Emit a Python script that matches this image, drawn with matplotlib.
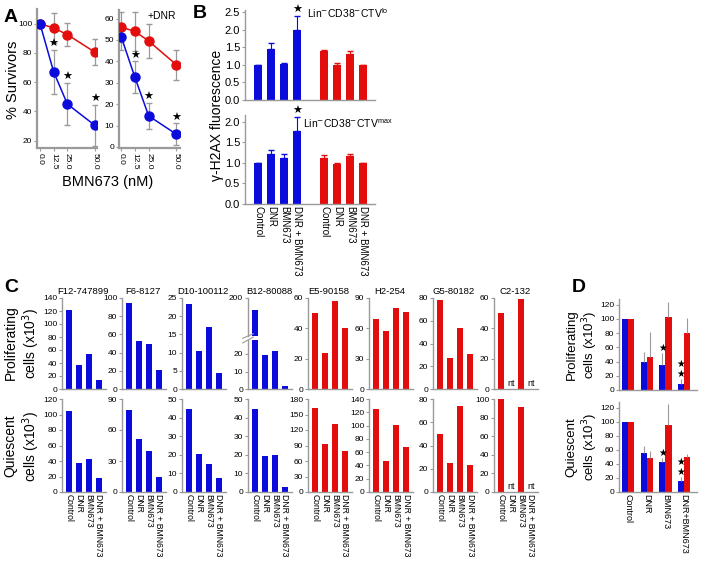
import numpy as np
import matplotlib
matplotlib.use('Agg')
import matplotlib.pyplot as plt

plt.rcParams['font.family'] = ['Liberation Sans', 'DejaVu Sans']

W, H = 722, 570
BLUE = '#0b0bdc'
RED = '#e30d0d'
GREY = '#9a9a9a'

# ---- data, panel A (% survivors) ----
dose = [0, 12.5, 25, 50]
a_red = [100, 97, 92.5, 80.5]
a_red_err = [0, 10, 8, 9]
a_blue = [100, 67, 45, 30.5]
a_blue_err = [0, 15, 14.5, 14]
a_red_dnr = [56, 54, 49.5, 38.5]
a_red_dnr_err = [7, 9, 8, 7]
a_blue_dnr = [51.5, 32.5, 14.5, 6]
a_blue_dnr_err = [6, 7.5, 6, 5]

# ---- data, panel B (gamma-H2AX) ----
treat = ['Control', 'DNR', 'BMN673', 'DNR + BMN673']
b_lo_blue = [1.0, 1.45, 1.02, 1.99]
b_lo_blue_err = [0, 0.17, 0.02, 0.41]
b_lo_red = [1.38, 1.0, 1.32, 1.0]
b_lo_red_err = [0.04, 0.05, 0.06, 0]
b_max_blue = [1.0, 1.21, 1.13, 1.78]
b_max_blue_err = [0, 0.1, 0.08, 0.35]
b_max_red = [1.12, 0.98, 1.16, 1.0]
b_max_red_err = [0.08, 0.02, 0.07, 0]

# ---- data, panel C (individual patients) ----
patients = ['F12-747899', 'F6-8127', 'D10-100112', 'B12-80088',
            'E5-90158', 'H2-254', 'G5-80182', 'C2-132']
pat_color = [BLUE, BLUE, BLUE, BLUE, RED, RED, RED, RED]
nan = np.nan
prolif = [[122, 37, 54, 14], [94, 53, 49, 21], [23.3, 10.5, 17, 4.3],
          [168, 19.6, 22, 1.6], [50, 24, 58, 40], [69, 57, 80, 76],
          [78, 27, 54, 31], [50, nan, 59.5, nan]]
prolif_top = [140, 100, 25, 28, 60, 90, 80, 60]
prolif_step = [20, 20, 5, 10, 20, 30, 20, 20]
quies = [[104, 38, 42, 18], [79, 51, 40, 15], [44.5, 20.5, 15, 7.5],
         [44.5, 19.5, 19.7, 2.5], [163, 92, 131, 80], [125, 47, 101, 68],
         [50, 25, 74, 23], [100, nan, 91.5, nan]]
quies_top = [120, 90, 50, 50, 180, 140, 80, 100]
quies_step = [20, 30, 10, 10, 30, 20, 20, 20]

# ---- data, panel D (summary) ----
d_labels = ['Control', 'DNR', 'BMN673', 'DNR+BMN673']
d_pro_blue = [100, 40, 35, 8]
d_pro_blue_err = [0, 14, 17, 8]
d_pro_red = [100, 47, 102, 80]
d_pro_red_err = [0, 34, 22, 21]
d_qui_blue = [100, 55, 42, 15]
d_qui_blue_err = [0, 11, 7, 7]
d_qui_red = [100, 48, 95, 50]
d_qui_red_err = [0, 10, 30, 4]

fig = plt.figure(figsize=(W / 100, H / 100), dpi=100)


def px_axes(x0, y0, x1, y1):
    return fig.add_axes([x0 / W, 1 - y1 / H, (x1 - x0) / W, (y1 - y0) / H])


def style(ax, lw=1.0, size=6):
    for s in ['top', 'right']:
        ax.spines[s].set_visible(False)
    for s in ['left', 'bottom']:
        ax.spines[s].set_color(GREY)
        ax.spines[s].set_linewidth(lw)
    ax.tick_params(color=GREY, length=2, width=0.8, labelsize=size, pad=1.5)


def px_text(x, y, s, **kw):
    fig.text(x / W, 1 - y / H, s, **kw)


# ================= panel A =================
star = dict(fontsize=8, ha='center', va='bottom', family='DejaVu Sans')
for k, (ry, re_, by, be, ylim, yt) in enumerate([
        (a_red, a_red_err, a_blue, a_blue_err, (15, 110), range(20, 101, 20)),
        (a_red_dnr, a_red_dnr_err, a_blue_dnr, a_blue_dnr_err, (-0.5, 64), range(0, 61, 10))]):
    ax = px_axes(37, 9, 97, 148) if k == 0 else px_axes(119, 10, 180, 148)
    style(ax, lw=1.6, size=6)
    ax.errorbar(dose, ry, yerr=re_, color=RED, ecolor=GREY, elinewidth=0.9, capsize=2.5,
                marker='o', ms=6.5, lw=1.1, zorder=3)
    ax.errorbar(dose, by, yerr=be, color=BLUE, ecolor=GREY, elinewidth=0.9, capsize=2.5,
                marker='o', ms=6.5, lw=1.1, zorder=3)
    for x, y, e in list(zip(dose, by, be))[1:]:
        ax.text(x, y + e + (0.5 if k == 0 else 0.3), '\u2605', **star)
    if k == 0:
        ax.set_xlim(-2.7, 52)
    else:
        ax.set_xlim(-2, 53.5)
    ax.set_ylim(*ylim)
    ax.set_yticks(list(yt))
    ax.set_xticks(dose)
    ax.set_xticklabels(['0.0', '12.5', '25.0', '50.0'], rotation=-90, va='top')
px_text(162, 16, '+DNR', fontsize=7.5, ha='center', va='center')
px_text(13, 80, '% Survivors', fontsize=10.5, rotation=90, ha='center', va='center')
px_text(108, 182, 'BMN673 (nM)', fontsize=10.5, ha='center', va='center')

# ================= panel B =================
pos_blue = np.arange(4)
pos_red = np.arange(4) + 5.1
for k, (vb, eb, vr, er, box, ylim, yt, lab, ly) in enumerate([
        (b_lo_blue, b_lo_blue_err, b_lo_red, b_lo_red_err, (245, 10, 375, 100), 2.56,
         np.arange(0, 2.51, 0.5), r'Lin$^{-}$CD38$^{-}$CTV$^{\mathregular{lo}}$', 0.96),
        (b_max_blue, b_max_blue_err, b_max_red, b_max_red_err, (245, 115, 375, 204), 2.17,
         np.arange(0, 2.01, 0.5), r'Lin$^{-}$CD38$^{-}$CTV$^{\mathregular{max}}$', 0.9)]):
    ax = px_axes(*box)
    style(ax, lw=1.0, size=8)
    ax.bar(pos_blue, vb, width=0.62, color=BLUE, yerr=[np.zeros(4), eb],
           error_kw=dict(ecolor=BLUE, elinewidth=0.8, capsize=2))
    ax.bar(pos_red, vr, width=0.62, color=RED, yerr=[np.zeros(4), er],
           error_kw=dict(ecolor=RED, elinewidth=0.8, capsize=2))
    ax.text(pos_blue[3], vb[3] + eb[3] + 0.01, '\u2605', fontsize=8, ha='center',
            va='bottom', family='DejaVu Sans')
    ax.set_xlim(-1, 9)
    ax.set_ylim(0, ylim)
    ax.set_yticks(yt)
    ax.set_yticklabels(['%.1f' % v for v in yt])
    ax.text(0.79, ly, lab, transform=ax.transAxes, fontsize=7.5,
            ha='center', va='center')
    if k == 1:
        ax.set_xticks(list(pos_blue) + list(pos_red))
        ax.set_xticklabels(treat + treat, rotation=-90, va='top', fontsize=7)
        ax.tick_params(axis='x', length=0)
    else:
        ax.set_xticks([])
px_text(217, 115, '\u03b3-H2AX fluorescence', fontsize=10, rotation=90, ha='center', va='center')

# ================= panel C =================
col_x = [62, 122, 182, 248, 308, 369, 433, 494]
xs = np.arange(1, 5)
for i, name in enumerate(patients):
    x0 = col_x[i]
    for r, (vals, top, step, y0, y1) in enumerate([
            (prolif[i], prolif_top[i], prolif_step[i], 298, 389),
            (quies[i], quies_top[i], quies_step[i], 399, 492)]):
        if i == 3 and r == 0:
            # broken axis for B12-80088
            up = px_axes(x0, 298, x0 + 44, 336)
            up.bar(xs, vals, width=0.68, color=pat_color[i])
            up.set_ylim(100, 200)
            up.set_yticks([200])
            up.set_xlim(0.3, 4.7)
            style(up, size=6)
            up.spines['bottom'].set_visible(False)
            up.set_xticks([])
            ax = px_axes(x0, 340, x0 + 44, 389)
            ax.bar(xs, vals, width=0.68, color=pat_color[i])
            ax.set_ylim(0, top)
            ax.set_yticks([0, 10, 20])
            d = 0.06
            for a_, yy in [(up, 0), (ax, 1)]:
                a_.plot([-0.12, 0.12], [yy - d, yy + d], transform=a_.transAxes,
                        color=GREY, lw=0.8, clip_on=False)
        else:
            ax = px_axes(x0, y0, x0 + 44, y1)
            ax.bar(xs, vals, width=0.68, color=pat_color[i])
            ax.set_ylim(0, top)
            ax.set_yticks(np.arange(0, top + 0.1, step))
        ax.set_xlim(0.3, 4.7)
        style(ax, size=6)
        for xx, v in zip(xs, vals):
            if np.isnan(v):
                ax.text(xx, top * 0.01, 'nt', fontsize=6.5, ha='center', va='bottom')
        if r == 1:
            ax.set_xticks(xs)
            ax.set_xticklabels(treat, rotation=-90, va='top', fontsize=6.2)
            ax.tick_params(axis='x', length=0)
        else:
            ax.set_xticks([])
    px_text(x0 + 21, 291, name, fontsize=6.8, ha='center', va='center')
px_text(23, 343, 'Proliferating\ncells (x10$^3$)', fontsize=10, rotation=90,
        ha='center', va='center', multialignment='center')
px_text(23, 446, 'Quiescent\ncells (x10$^3$)', fontsize=10, rotation=90,
        ha='center', va='center', multialignment='center')

# ================= panel D =================
gx = np.arange(4)
bw = 0.33
for r, (vb, eb, vr, er, box, lab, sy) in enumerate([
        (d_pro_blue, d_pro_blue_err, d_pro_red, d_pro_red_err, (619, 299, 697, 390),
         'Proliferating\ncells (x10$^3$)', 345),
        (d_qui_blue, d_qui_blue_err, d_qui_red, d_qui_red_err, (619, 402, 697, 492),
         'Quiescent\ncells (x10$^3$)', 447)]):
    ax = px_axes(*box)
    style(ax, size=6)
    ax.bar(gx - bw / 2, vb, width=bw, color=BLUE, yerr=[np.zeros(4), eb],
           error_kw=dict(ecolor=GREY, elinewidth=0.8, capsize=0))
    ax.bar(gx + bw / 2, vr, width=bw, color=RED, yerr=[np.zeros(4), er],
           error_kw=dict(ecolor=GREY, elinewidth=0.8, capsize=0))
    ax.text(gx[2] - bw / 2, vb[2] + eb[2], '\u2605', fontsize=7, ha='center', va='bottom',
            family='DejaVu Sans')
    ax.text(gx[3] - bw / 2, vb[3] + eb[3], '\u2605\n\u2605', fontsize=7, ha='center',
            va='bottom', family='DejaVu Sans', linespacing=0.9)
    ax.set_xlim(-0.5, 3.7)
    ax.set_ylim(0, 128)
    ax.set_yticks(np.arange(0, 121, 20))
    if r == 1:
        ax.set_xticks(gx)
        ax.set_xticklabels(d_labels, rotation=-90, va='top', fontsize=6.5)
        ax.tick_params(axis='x', length=0)
    else:
        ax.set_xticks([])
    px_text(583, sy, lab, fontsize=9.5, rotation=90, ha='center', va='center',
            multialignment='center')

# panel letters
for s, x, y in [('A', 4, 18), ('B', 193, 13), ('C', 4, 287), ('D', 572, 287)]:
    px_text(x, y, s, fontsize=14, fontweight='bold', ha='left', va='center')

fig.savefig('out.png', dpi=100)
